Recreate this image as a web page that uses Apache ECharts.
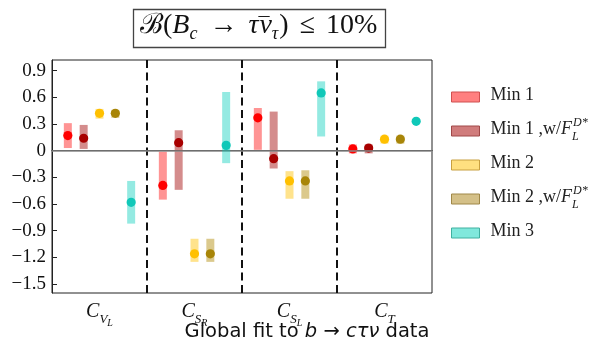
<!DOCTYPE html>
<html>
<head>
<meta charset="utf-8">
<script src="https://cdn.jsdelivr.net/npm/echarts@6/dist/echarts.min.js"></script>
<style>
  html, body { margin: 0; padding: 0; background: #fff; }
  #chart { width: 605px; height: 344px; }
</style>
</head>
<body>
<div id="chart"></div>
<script>
// Wilson coefficients on the horizontal axis
const categories = ['C_VL', 'C_SR', 'C_SL', 'C_T'];
const categoryMain = ['C', 'C', 'C', 'C'];
const categorySub = ['V', 'S', 'S', 'T'];
const categorySubSub = ['L', 'R', 'L', ''];

// Fit scenarios
const seriesNames = ['Min 1', 'Min 1 ,w/F_L^D*', 'Min 2', 'Min 2 ,w/F_L^D*', 'Min 3'];

// Best-fit values per coefficient (same order as categories)
const min1Best  = [0.17, -0.39, 0.37, 0.02];
const min1wBest = [0.14, 0.09, -0.09, 0.03];
const min2Best  = [0.42, -1.16, -0.34, 0.13];
const min2wBest = [0.42, -1.16, -0.34, 0.13];
const min3Best  = [-0.58, 0.06, 0.65, 0.33];

// 1-sigma ranges: lower and upper ends
const min1Low   = [0.03, -0.55, 0.01, -0.03];
const min1High  = [0.31, -0.01, 0.48, 0.07];
const min1wLow  = [0.02, -0.44, -0.20, -0.03];
const min1wHigh = [0.29, 0.23, 0.44, 0.07];
const min2Low   = [0.36, -1.25, -0.54, 0.08];
const min2High  = [0.47, -0.99, -0.23, 0.17];
const min2wLow  = [0.37, -1.25, -0.54, 0.08];
const min2wHigh = [0.46, -0.99, -0.22, 0.17];
const min3Low   = [-0.82, -0.14, 0.16, 0.31];
const min3High  = [-0.34, 0.66, 0.78, 0.35];

// y-axis tick values
const yTicks = [-1.5, -1.2, -0.9, -0.6, -0.3, 0, 0.3, 0.6, 0.9];

const bestValues = [min1Best, min1wBest, min2Best, min2wBest, min3Best];
const lowValues  = [min1Low, min1wLow, min2Low, min2wLow, min3Low];
const highValues = [min1High, min1wHigh, min2High, min2wHigh, min3High];

const dotColors  = ['#ff0000', '#a80000', '#ffc000', '#a88508', '#10c8b8'];
const bandColors = ['rgba(255,0,0,0.42)', 'rgba(160,0,0,0.45)', 'rgba(255,192,0,0.45)',
                    'rgba(176,136,0,0.45)', 'rgba(0,204,187,0.42)'];
const iconFill   = ['#ff8080', '#d07c7c', '#ffe080', '#d4c088', '#80e8dc'];
const iconEdge   = ['#d05050', '#a04848', '#c8a040', '#a08848', '#40b0a0'];
const slotOffset = [-2, -1, 0, 1, 2];

const serif = "'Liberation Serif', 'DejaVu Serif', serif";

const legendText = [
  '{t|Min 1}',
  '{t|Min 1 ,w/}{fi|F}{sub|L}{sup|D*}',
  '{t|Min 2}',
  '{t|Min 2 ,w/}{fi|F}{sub|L}{sup|D*}',
  '{t|Min 3}'
];

const chart = echarts.init(document.getElementById('chart'), null, { renderer: 'canvas' });

const errorSeries = seriesNames.map((name, k) => ({
  name: name,
  type: 'custom',
  z: 3 + k,
  itemStyle: { color: iconFill[k] },
  encode: { x: 0, y: [1, 2, 3] },
  data: categories.map((c, i) => [i, lowValues[k][i], highValues[k][i], bestValues[k][i]]),
  renderItem: function (params, api) {
    const band = api.size([1, 0])[0];
    const dx = slotOffset[k] * band / 6;
    const hi = api.coord([api.value(0), api.value(2)]);
    const lo = api.coord([api.value(0), api.value(1)]);
    const mid = api.coord([api.value(0), api.value(3)]);
    const x = hi[0] + dx;
    return {
      type: 'group',
      children: [
        { type: 'rect', shape: { x: x - 4, y: hi[1], width: 8, height: lo[1] - hi[1] },
          style: { fill: bandColors[k] } },
        { type: 'circle', shape: { cx: x, cy: mid[1], r: 4.6 },
          style: { fill: dotColors[k] } }
      ]
    };
  }
}));

// dashed separators between coefficients, plus the zero line
const dividerSeries = {
  type: 'custom',
  silent: true,
  z: 2,
  data: categories.slice(0, -1).map((c, i) => [i, 0]),
  renderItem: function (params, api) {
    const band = api.size([1, 0])[0];
    const p = api.coord([api.value(0), 0]);
    const cs = params.coordSys;
    const x = p[0] + band / 2;
    return {
      type: 'line',
      shape: { x1: x, y1: cs.y, x2: x, y2: cs.y + cs.height },
      style: { stroke: '#111', lineWidth: 2, lineDash: [8, 4.5] }
    };
  },
  markLine: {
    silent: true,
    symbol: ['none', 'none'],
    label: { show: false },
    lineStyle: { color: '#888', width: 1.5, type: 'solid' },
    data: [{ yAxis: 0 }]
  }
};

const titleRich = {
  t: { fontFamily: serif, fontSize: 28, fontWeight: 'normal', lineHeight: 28, padding: [0, 0, 5, 0], verticalAlign: 'bottom', color: '#111' },
  op: { fontFamily: serif, fontSize: 28, fontWeight: 'normal', lineHeight: 28, padding: [0, 11, 5, 11], verticalAlign: 'bottom', color: '#111' },
  i: { fontFamily: serif, fontSize: 28, fontWeight: 'normal', fontStyle: 'italic', lineHeight: 28, padding: [0, 0, 5, 0], verticalAlign: 'bottom', color: '#111' },
  mac: { fontFamily: serif, fontSize: 22, fontWeight: 'normal', lineHeight: 22, width: 1, padding: [0, 0, 8, 0], verticalAlign: 'bottom', color: '#111' },
  sub: { fontFamily: serif, fontSize: 18, fontWeight: 'normal', fontStyle: 'italic', lineHeight: 18, padding: [0, 1, 2, 0], verticalAlign: 'bottom', color: '#111' }
};

const option = {
  animation: false,
  backgroundColor: '#fff',
  title: {
    text: '{t|ℬ(}{i|B}{sub|c}{op|→}{i|τ}{mac|¯}{i|ν}{sub|τ}{t|)}{op|≤}{t|10%}',
    left: 133,
    top: 14,
    padding: [3, 8, 3, 7],
    borderColor: '#444',
    borderWidth: 1.3,
    textStyle: { fontFamily: serif, fontSize: 28, fontWeight: 'normal', color: '#111', rich: titleRich }
  },
  legend: seriesNames.map((name, k) => ({
    data: [{ name: name, icon: 'rect',
             itemStyle: { color: iconFill[k], borderColor: iconEdge[k], borderWidth: 1 } }],
    left: 446,
    top: 75 + k * 34,
    orient: 'vertical',
    itemWidth: 28,
    itemHeight: 10,
    itemGap: 0,
    selectedMode: false,
    formatter: function () { return legendText[k]; },
    textStyle: {
      fontFamily: serif,
      color: '#222',
      padding: [8, 0, 0, 6],
      rich: {
        t: { fontFamily: serif, fontSize: 18, lineHeight: 18, padding: [6, 0, 6, 0], verticalAlign: 'bottom', color: '#222' },
        fi: { fontFamily: serif, fontSize: 18, fontStyle: 'italic', lineHeight: 18, padding: [6, 0, 6, 0], verticalAlign: 'bottom', color: '#222' },
        sub: { fontFamily: serif, fontSize: 12, fontStyle: 'italic', lineHeight: 12, width: 1, padding: [0, 0, 1.5, 0], verticalAlign: 'bottom', color: '#222' },
        sup: { fontFamily: serif, fontSize: 12, fontStyle: 'italic', lineHeight: 12, padding: [0, 0, 15.5, 0], verticalAlign: 'bottom', color: '#222' }
      }
    }
  })),
  grid: {
    left: 52, top: 60, width: 380, height: 233,
    outerBoundsMode: 'none',
    containLabel: false,
    show: true, borderColor: '#222', borderWidth: 1, backgroundColor: 'transparent'
  },
  xAxis: {
    type: 'category',
    data: categories,
    boundaryGap: true,
    axisLine: { lineStyle: { color: '#222', width: 1 } },
    axisTick: { inside: true, alignWithLabel: true, length: 4, lineStyle: { color: '#222' } },
    splitLine: { show: false },
    axisLabel: {
      interval: 0,
      margin: 21,
      formatter: function (v, i) {
        let s = '{c|' + categoryMain[i] + '}{s|' + categorySub[i] + '}';
        if (categorySubSub[i]) s += '{ss|' + categorySubSub[i] + '}';
        return s;
      },
      rich: {
        c: { fontFamily: serif, fontSize: 20, fontStyle: 'italic', lineHeight: 20, padding: [0, 0, 12, 0], verticalAlign: 'bottom', color: '#111' },
        s: { fontFamily: serif, fontSize: 13, fontStyle: 'italic', lineHeight: 13, padding: [0, 0, 8, 0], verticalAlign: 'bottom', color: '#111' },
        ss: { fontFamily: serif, fontSize: 10, fontStyle: 'italic', lineHeight: 10, padding: [0, 0, 6, 0], verticalAlign: 'bottom', color: '#111' }
      }
    },
    name: '{r|Global fit to }{i|b}{r| → }{i|cτν}{r| data}',
    nameLocation: 'middle',
    nameMoveOverlap: false,
    nameGap: 29,
    nameTextStyle: {
      padding: [0, 0, 0, 130],
      rich: {
        r: { fontFamily: "'DejaVu Sans', sans-serif", fontSize: 19.5, color: '#111' },
        i: { fontFamily: "'DejaVu Sans', sans-serif", fontSize: 19.5, fontStyle: 'italic', color: '#111' }
      }
    }
  },
  yAxis: {
    type: 'value',
    min: -1.6,
    max: 1.02,
    axisLine: { show: true, lineStyle: { color: '#222', width: 1 } },
    axisTick: { show: true, inside: true, length: 5, customValues: yTicks, lineStyle: { color: '#222' } },
    splitLine: { show: false },
    axisLabel: {
      customValues: yTicks,
      margin: 6,
      fontFamily: serif,
      fontSize: 19,
      color: '#111',
      formatter: function (v) {
        if (Math.abs(v) < 1e-9) return '0';
        return (v < 0 ? '\u2212' : '') + Math.abs(v).toFixed(1);
      }
    }
  },
  series: [dividerSeries].concat(errorSeries)
};

chart.setOption(option);
</script>
</body>
</html>
